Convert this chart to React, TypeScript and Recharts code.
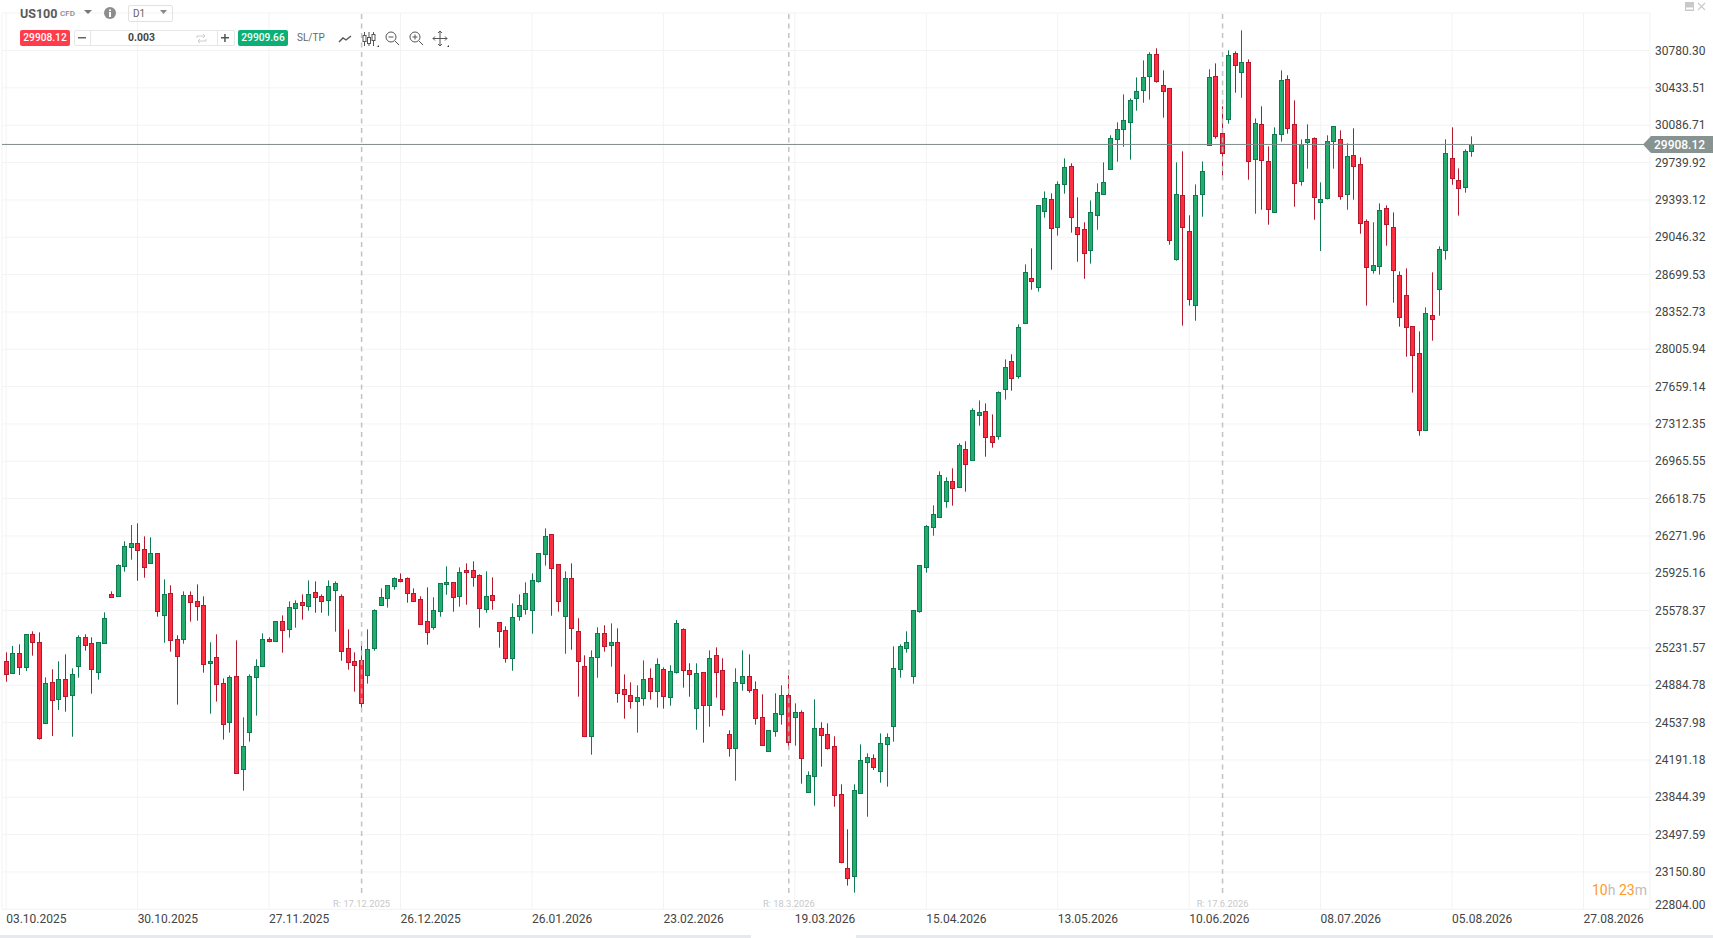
import { Bar, CartesianGrid, ComposedChart, ReferenceLine, XAxis, YAxis } from 'recharts';

// daily US100 candles
const opens = [
  25107, 24996, 25181, 25051, 25358, 25284, 24531, 24912, 24754, 24940,
  24791, 25061, 25330, 25274, 25005, 25274, 25729, 25711, 25989, 26166,
  26203, 26147, 26017, 26110, 25534, 25739, 25311, 25311, 25720, 25664,
  25627, 25089, 25144, 24903, 24541, 24968, 24104, 24448, 24958, 25061,
  25311, 25293, 25479, 25404, 25599, 25655, 25618, 25748, 25711, 25674,
  25767, 25711, 25228, 25107, 25116, 24977, 25228, 25627, 25692, 25804,
  25869, 25878, 25739, 25683, 25479, 25423, 25571, 25822, 25841, 25711,
  25952, 25952, 25906, 25590, 25720, 25469, 25395, 25135, 25525, 25590,
  25581, 25850, 26101, 26287, 26008, 25525, 25878, 25386, 25061, 24411,
  25144, 25367, 25256, 25284, 24847, 24791, 24736, 24764, 24949, 24829,
  25033, 24773, 25005, 25404, 25024, 24671, 25005, 24698, 25163, 25024,
  24429, 24299, 24903, 24968, 24847, 24587, 24271, 24457, 24615, 24791,
  24587, 24633, 23890, 24039, 24485, 24429, 24318, 23872, 23185, 23110,
  23881, 24169, 24206, 24085, 24336, 24503, 25033, 25228, 24968, 25572,
  25980, 26352, 26451, 26593, 26779, 26723, 27076, 26980, 27398, 27429,
  27197, 27197, 27634, 27894, 27754, 28246, 28664, 28581, 29287, 29398,
  29138, 29537, 29705, 29138, 29120, 28925, 29250, 29445, 29677, 29955,
  30048, 30113, 30336, 30411, 30541, 30745, 30457, 30429, 28841, 29435,
  29101, 28414, 29445, 29900, 30541, 30011, 30141, 30754, 30578, 30671,
  29770, 30095, 29751, 29277, 30002, 30513, 30095, 29565, 29928, 29965,
  29370, 29407, 29937, 29955, 29445, 29807, 29723, 29194, 28739, 28776,
  29315, 29138, 28692, 28507, 28219, 27968, 27253, 28321, 28562, 28925,
  29779, 29575, 29510, 29844,
];
const closes = [
  24986, 25181, 25051, 25358, 25284, 24392, 24903, 24745, 24940, 24782,
  24986, 25330, 25256, 25033, 25284, 25507, 25708, 25999, 26175, 26203,
  26138, 25980, 26110, 25571, 25729, 25302, 25154, 25720, 25655, 25618,
  25079, 25107, 24894, 24522, 24958, 24067, 24318, 24968, 25061, 25311,
  25293, 25479, 25395, 25609, 25646, 25627, 25729, 25702, 25664, 25804,
  25832, 25200, 25098, 25070, 24717, 25219, 25581, 25702, 25813, 25878,
  25850, 25739, 25664, 25451, 25376, 25581, 25832, 25841, 25702, 25934,
  25934, 25887, 25599, 25711, 25674, 25386, 25135, 25516, 25627, 25739,
  25859, 26110, 26268, 25971, 25664, 25878, 25414, 25107, 24417, 25144,
  25367, 25247, 25284, 24810, 24801, 24736, 24773, 24940, 24829, 25079,
  24782, 25014, 25460, 25024, 24986, 24996, 24698, 25135, 25005, 24661,
  24299, 24912, 24968, 24838, 24578, 24327, 24466, 24624, 24791, 24355,
  24633, 24206, 24048, 24485, 24420, 24305, 23863, 23240, 23092, 23909,
  24188, 24216, 24123, 24346, 24401, 25042, 25246, 25284, 25581, 25999,
  26361, 26472, 26835, 26779, 26714, 27113, 26937, 27438, 27420, 27188,
  27141, 27606, 27838, 27736, 28209, 28720, 28637, 29342, 29407, 29129,
  29537, 29695, 29231, 29073, 28897, 29277, 29463, 29556, 29965, 30048,
  30132, 30318, 30401, 30531, 30745, 30494, 30401, 29017, 29445, 29138,
  28469, 29435, 29658, 30531, 29983, 29825, 30736, 30643, 30671, 29751,
  30104, 29760, 29305, 30002, 30503, 30058, 29547, 29909, 29955, 29417,
  29398, 29937, 30076, 29426, 29798, 29705, 29175, 28767, 28785, 29296,
  29166, 28739, 28302, 28209, 27949, 27253, 28339, 28284, 28934, 29825,
  29593, 29500, 29844, 29908.12,
];
const highs = [
  25191, 25250, 25265, 25358, 25386, 25376, 24958, 25033, 25107, 25172,
  25042, 25349, 25358, 25330, 25284, 25562, 25757, 26008, 26222, 26373,
  26389, 26268, 26259, 26110, 25869, 25813, 25349, 25757, 25757, 25822,
  25711, 25284, 25358, 24949, 24977, 25302, 24587, 24986, 25126, 25367,
  25330, 25479, 25534, 25664, 25674, 25729, 25859, 25850, 25729, 25859,
  25850, 25729, 25404, 25191, 25256, 25404, 25590, 25785, 25813, 25887,
  25924, 25887, 25785, 25711, 25794, 25702, 25832, 25989, 25841, 25980,
  26017, 26036, 25915, 25943, 25887, 25469, 25432, 25646, 25729, 25841,
  25924, 26110, 26342, 26287, 26008, 25943, 26017, 25507, 25163, 25209,
  25423, 25442, 25460, 25414, 24986, 24912, 24884, 25116, 25042, 25135,
  25051, 25070, 25491, 25414, 25089, 25089, 25005, 25209, 25237, 25135,
  24466, 25042, 25209, 25172, 24921, 24801, 24466, 24810, 24884, 24977,
  24717, 24652, 24085, 24754, 24541, 24531, 24411, 23965, 23547, 23965,
  24336, 24253, 24243, 24438, 24438, 25246, 25265, 25386, 25581, 25999,
  26373, 26556, 26872, 26816, 26900, 27132, 27151, 27457, 27531, 27503,
  27401, 27615, 27912, 27959, 28237, 28794, 28943, 29342, 29472, 29454,
  29565, 29779, 29733, 29417, 29185, 29389, 29547, 29742, 29993, 30113,
  30373, 30336, 30531, 30689, 30764, 30801, 30596, 30429, 29742, 29844,
  29250, 29537, 29751, 30606, 30661, 30262, 30782, 30773, 30968, 30698,
  30150, 30262, 29890, 30067, 30596, 30550, 30318, 29955, 30095, 29974,
  29556, 29993, 30076, 30039, 29918, 30058, 29788, 29212, 29185, 29361,
  29342, 29277, 28729, 28757, 28219, 28172, 28395, 28720, 28962, 29956,
  30067, 29686, 29863, 29983,
];
const lows = [
  24918, 24996, 24980, 25017, 25160, 24380, 24531, 24414, 24655, 24640,
  24407, 24955, 25206, 24807, 24937, 25274, 25698, 25711, 25940, 26051,
  25856, 25884, 26017, 25522, 25280, 25197, 24705, 25271, 25476, 25485,
  25002, 24621, 24733, 24380, 24445, 24067, 23906, 24361, 24603, 25061,
  25284, 25293, 25188, 25327, 25420, 25494, 25578, 25559, 25559, 25531,
  25383, 25113, 25030, 24825, 24677, 24900, 25206, 25627, 25606, 25773,
  25841, 25652, 25664, 25451, 25262, 25401, 25522, 25726, 25568, 25615,
  25633, 25801, 25420, 25559, 25587, 25234, 25095, 25020, 25485, 25541,
  25364, 25838, 25996, 25531, 25568, 25178, 25215, 24779, 24407, 24240,
  24955, 25197, 25058, 24723, 24575, 24668, 24445, 24695, 24751, 24677,
  24668, 24695, 24993, 24863, 24779, 24472, 24352, 24500, 24770, 24602,
  24222, 23999, 24835, 24816, 24519, 24327, 24271, 24407, 24519, 24299,
  24324, 23971, 23890, 23767, 24129, 24287, 23757, 23231, 23024, 22959,
  23881, 23664, 24098, 23980, 23943, 24361, 24955, 25188, 24900, 25559,
  25931, 26274, 26445, 26534, 26553, 26723, 26683, 26980, 27296, 27008,
  27092, 27166, 27538, 27621, 27733, 28246, 28559, 28541, 29228, 28745,
  29061, 29451, 29089, 28819, 28661, 28801, 29116, 29445, 29677, 29748,
  29887, 29767, 30222, 30296, 30324, 30482, 30157, 28977, 28829, 28225,
  28411, 28271, 29237, 29900, 29962, 29618, 30101, 30389, 30342, 29581,
  29265, 29302, 29163, 29277, 29934, 30008, 29330, 29525, 29683, 29209,
  28918, 29398, 29683, 29395, 29302, 29395, 29079, 28411, 28708, 28699,
  28968, 28438, 28216, 27937, 27603, 27203, 27253, 28086, 28318, 28838,
  29534, 29247, 29460, 29794,
];

const priceTicks = [
  22804.0, 23150.8, 23497.59, 23844.39, 24191.18, 24537.98, 24884.78, 25231.57, 25578.37, 25925.16,
  26271.96, 26618.75, 26965.55, 27312.35, 27659.14, 28005.94, 28352.73, 28699.53, 29046.32, 29393.12,
  29739.92, 30086.71, 30433.51, 30780.3,
];
const dateTicks = [0, 20, 40, 60, 80, 100, 120, 140, 160, 180, 200, 220, 240];
const dateLabels = [
  '03.10.2025', '30.10.2025', '27.11.2025', '26.12.2025', '26.01.2026', '23.02.2026', '19.03.2026',
  '15.04.2026', '13.05.2026', '10.06.2026', '08.07.2026', '05.08.2026', '27.08.2026',
];
const rollovers = [
  { index: 54, label: 'R: 17.12.2025' },
  { index: 119, label: 'R: 18.3.2026' },
  { index: 185, label: 'R: 17.6.2026' },
];
const lastPrice = 29908.12;

const data = opens.map((open, i) => ({ i, open, close: closes[i], high: highs[i], low: lows[i] }));

const FONT = 'Roboto, sans-serif';

function Candle(props: any) {
  const { x, y, width, height, payload } = props;
  const { open, close, high, low } = payload;
  const up = close >= open;
  const perPrice = height / (high - low);
  const top = Math.round(y + (high - Math.max(open, close)) * perPrice);
  const bottom = Math.round(y + (high - Math.min(open, close)) * perPrice);
  const cx = Math.floor(x + width / 2);
  const edge = up ? '#0f7a50' : '#b3182d';
  return (
    <g>
      <rect x={cx} y={y} width={1} height={height} fill={edge} />
      <rect
        x={cx - 1.5}
        y={top + 0.5}
        width={4}
        height={Math.max(bottom - top, 1)}
        fill={up ? '#22ad6f' : '#ff2d40'}
        stroke={edge}
        strokeWidth={1}
      />
    </g>
  );
}

function DateTick(props: any) {
  const { x, payload } = props;
  return (
    <text x={x} y={923} textAnchor="start" fontSize={12} fontFamily={FONT} fill="#444">
      {dateLabels[dateTicks.indexOf(payload.value)]}
    </text>
  );
}

function PriceTick(props: any) {
  const { x, y, payload } = props;
  // the lowest label sits a little above its grid line
  const lift = payload.value === priceTicks[0] ? 4.6 : 0;
  return (
    <text x={x} y={y - lift + 4.2} textAnchor="start" fontSize={12} fontFamily={FONT} fill="#444">
      {payload.value.toFixed(2)}
    </text>
  );
}

function PriceTag(props: any) {
  const { viewBox } = props;
  const y = viewBox.y;
  return (
    <g>
      <polygon points={`1643,${y} 1651,${y - 8.5} 1713,${y - 8.5} 1713,${y + 8.5} 1651,${y + 8.5}`} fill="#869391" />
      <text x={1654} y={y + 4.5} fontSize={12} fontWeight={500} fontFamily={FONT} fill="#fff">
        {lastPrice.toFixed(2)}
      </text>
    </g>
  );
}

const abs = (left: number, top: number, extra: any = {}) => ({
  position: 'absolute' as const,
  left,
  top,
  fontFamily: FONT,
  whiteSpace: 'nowrap' as const,
  ...extra,
});

function Toolbar() {
  return (
    <>
      <div style={abs(20, 5, { fontSize: 12.5, fontWeight: 700, color: '#5a5a5a', lineHeight: '17px' })}>US100</div>
      <div style={abs(60, 8, { fontSize: 8, fontWeight: 500, color: '#8a8a8a', lineHeight: '11px' })}>CFD</div>
      <svg style={abs(83, 9)} width={12} height={8}><polygon points="1,1 9,1 5,5" fill="#777" /></svg>
      <svg style={abs(104, 7)} width={13} height={13}>
        <circle cx={6} cy={6} r={6} fill="#8d8d8d" />
        <rect x={5} y={5} width={2} height={5} fill="#fff" />
        <rect x={5} y={2.5} width={2} height={1.6} fill="#fff" />
      </svg>
      <div style={abs(128, 5, { width: 43, height: 15, border: '1px solid #e2e2e2', borderRadius: 2 })} />
      <div style={abs(133, 6, { fontSize: 10, color: '#666', lineHeight: '15px' })}>D1</div>
      <svg style={abs(159, 9)} width={10} height={7}><polygon points="1,1 8,1 4.5,5" fill="#888" /></svg>

      <div style={abs(20, 30, { width: 50, height: 16, background: '#ff3b4c', borderRadius: 2, color: '#fff', fontSize: 10.2, fontWeight: 500, lineHeight: '16px', textAlign: 'center' })}>29908.12</div>
      <div style={abs(74, 30, { width: 159, height: 14, border: '1px solid #e6e6e6', borderRadius: 2 })} />
      <div style={abs(90, 31, { width: 1, height: 14, background: '#e6e6e6' })} />
      <div style={abs(217, 31, { width: 1, height: 14, background: '#e6e6e6' })} />
      <svg style={abs(78, 34)} width={9} height={8}><rect x={0} y={3} width={8} height={1.5} fill="#666" /></svg>
      <svg style={abs(221, 34)} width={9} height={9}><rect x={0} y={3} width={8} height={1.5} fill="#555" /><rect x={3.2} y={0} width={1.5} height={8} fill="#555" /></svg>
      <div style={abs(128, 30, { fontSize: 10.4, fontWeight: 700, color: '#444', lineHeight: '16px' })}>0.003</div>
      <svg style={abs(196, 33)} width={11} height={11} fill="none" stroke="#ccc" strokeWidth={1}>
        <path d="M1 5V3h8M7 1l2 2-2 2M10 6v2H2M4 6L2 8l2 2" />
      </svg>
      <div style={abs(238, 30, { width: 50, height: 16, background: '#0db074', borderRadius: 2, color: '#fff', fontSize: 10.2, fontWeight: 500, lineHeight: '16px', textAlign: 'center' })}>29909.66</div>
      <div style={abs(297, 30, { fontSize: 10, color: '#666', lineHeight: '16px' })}>SL/TP</div>

      <svg style={abs(337, 30)} width={120} height={18} fill="none" stroke="#555" strokeWidth={1}>
        <path d="M2 12l4-4 3 2 5-4" strokeWidth={1.4} />
        <path d="M27.5 2v14M32 2v14M36.5 2v14" />
        <rect x={26} y={5.5} width={3} height={6} fill="#fff" />
        <rect x={30.5} y={7.5} width={3} height={6} fill="#fff" />
        <rect x={35} y={4.5} width={3} height={6} fill="#fff" />
        <polygon points="42,15 42,17 40,17" fill="#333" stroke="none" />
        <circle cx={54} cy={7} r={5} />
        <path d="M58 11l4 4M51.5 7h5" />
        <circle cx={78} cy={7} r={5} />
        <path d="M82 11l4 4M75.5 7h5M78 4.5v5" />
        <path d="M103 1v15M96 8.5h14M101 3l2-2 2 2M101 14l2 2 2-2M98 6.5l-2 2 2 2M108 6.5l2 2-2 2" />
        <polygon points="112,15 112,17 110,17" fill="#333" stroke="none" />
      </svg>

      <svg style={abs(1685, 2)} width={22} height={10}>
        <rect x={0} y={0} width={9} height={9} fill="#c9c9c9" />
        <rect x={1} y={5.5} width={7} height={2} fill="#fff" />
        <path d="M13 1l7 7M20 1l-7 7" stroke="#c9c9c9" strokeWidth={1.1} />
      </svg>

      <div style={abs(1592, 881, { fontSize: 14, lineHeight: '18px', color: '#bdbdbd' })}>
        <span style={{ color: '#ff9a1f' }}>10</span>h <span style={{ color: '#ff9a1f' }}>23</span>m
      </div>

      <div style={abs(0, 935, { width: 751, height: 3, background: '#e6e9ed' })} />
      <div style={abs(856, 935, { width: 857, height: 3, background: '#e6e9ed' })} />
    </>
  );
}

export default function App() {
  return (
    <div style={{ position: 'absolute', left: 0, top: 0, width: 1713, height: 938, background: '#fff', overflow: 'hidden' }}>
      <ComposedChart
        width={1713}
        height={938}
        data={data}
        margin={{ top: 13, right: 0, bottom: 0, left: 2 }}
      >
        <CartesianGrid stroke="#f3f3f3" strokeWidth={1} />
        <XAxis
          dataKey="i"
          type="number"
          domain={[-0.639, 250.12]}
          ticks={dateTicks}
          interval={0}
          allowDataOverflow
          height={28.7}
          axisLine={false}
          tickLine={false}
          tick={<DateTick />}
        />
        <YAxis
          orientation="right"
          domain={[22804, 31129]}
          ticks={priceTicks}
          interval={0}
          allowDataOverflow
          width={63}
          axisLine={false}
          tickLine={false}
          tickMargin={-1}
          tick={<PriceTick />}
        />
        <Bar
          dataKey={(d: any) => [d.low, d.high]}
          barSize={5}
          shape={<Candle />}
          isAnimationActive={false}
        />
        <ReferenceLine
          y={lastPrice}
          stroke="#7f8c8c"
          strokeWidth={1}
          label={<PriceTag />}
        />
        {rollovers.map((r) => (
          <ReferenceLine
            key={r.index}
            segment={[
              { x: r.index + 0.08, y: 22955 },
              { x: r.index + 0.08, y: 31129 },
            ]}
            stroke="#bdbdbd"
            strokeOpacity={0.9}
            strokeWidth={1.5}
            strokeDasharray="5 4.5"
            label={{
              value: r.label,
              position: 'bottom',
              offset: 7.5,
              fontSize: 9.3,
              fontFamily: FONT,
              fill: '#c8c8c8',
            }}
          />
        ))}
      </ComposedChart>
      <Toolbar />
    </div>
  );
}
